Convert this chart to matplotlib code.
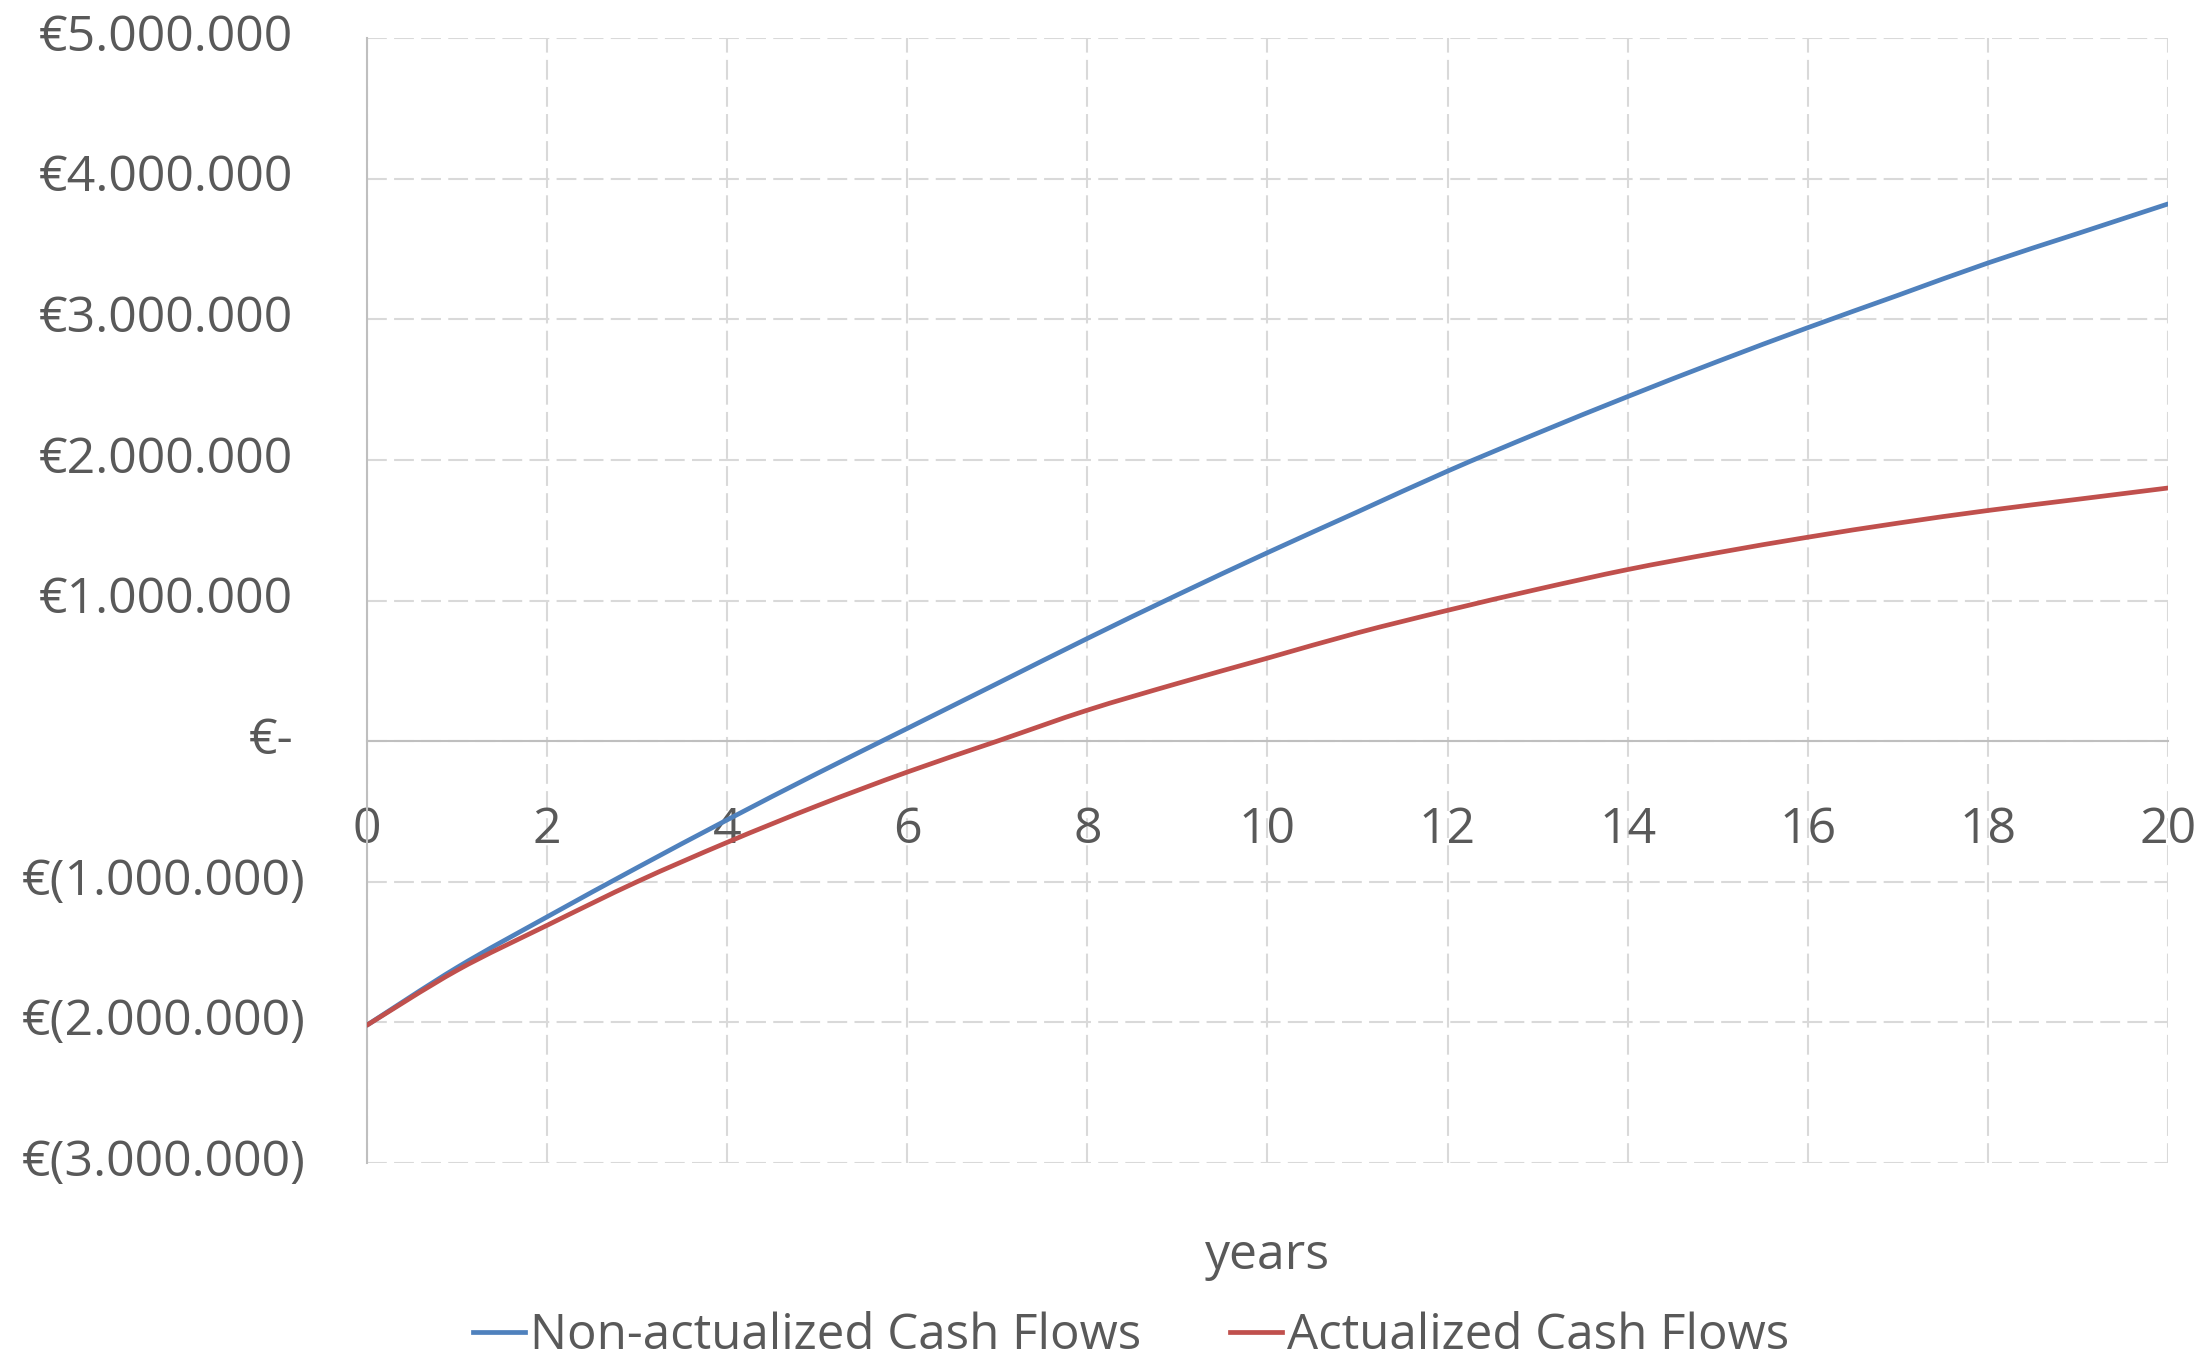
import matplotlib
matplotlib.use("Agg")
from matplotlib import pyplot as plt
from matplotlib.path import Path
from matplotlib.patches import PathPatch
from matplotlib.lines import Line2D
from matplotlib.transforms import blended_transform_factory, offset_copy

# data, in millions of euro
years = list(range(21))
non_actualized = [-2.02, -1.61, -1.25, -0.90, -0.56, -0.23, 0.09, 0.41, 0.73, 1.04, 1.34,
                  1.63, 1.92, 2.19, 2.45, 2.70, 2.94, 3.17, 3.40, 3.61, 3.82]
actualized = [-2.02, -1.63, -1.31, -1.00, -0.72, -0.46, -0.22, 0.00, 0.22, 0.41, 0.59,
              0.77, 0.93, 1.08, 1.22, 1.34, 1.45, 1.55, 1.64, 1.72, 1.80]
non_actualized = [v * 1e6 for v in non_actualized]
actualized = [v * 1e6 for v in actualized]

x_ticks = list(range(0, 21, 2))
y_ticks = [v * 1e6 for v in range(-3, 6)]

text_col = "#595959"
blue = "#4F81BD"
red = "#C0504D"
fsize = 36
plt.rcParams['font.family'] = ['Open Sans', 'DejaVu Sans']


def euro(v):
    if abs(v) < 1:
        return "€-"
    s = f"{abs(v):,.0f}".replace(",", ".")
    return f"€({s})" if v < 0 else f"€{s}"


def smooth_path(xs, ys):
    # excel style "smoothed line": cubic bezier through every data point
    pts = list(zip(xs, ys))
    verts = [pts[0]]
    codes = [Path.MOVETO]
    n = len(pts)
    for i in range(n - 1):
        p0 = pts[max(i - 1, 0)]
        p1 = pts[i]
        p2 = pts[i + 1]
        p3 = pts[min(i + 2, n - 1)]
        c1 = (p1[0] + (p2[0] - p0[0]) / 6, p1[1] + (p2[1] - p0[1]) / 6)
        c2 = (p2[0] - (p3[0] - p1[0]) / 6, p2[1] - (p3[1] - p1[1]) / 6)
        verts += [c1, c2, p2]
        codes += [Path.CURVE4] * 3
    return Path(verts, codes)


fig = plt.figure(figsize=(22.05, 13.62), dpi=100)
ax = fig.add_axes([0.1664, 0.1461, 0.8168, 0.826])

for ys, col in [(non_actualized, blue), (actualized, red)]:
    ax.add_patch(PathPatch(smooth_path(years, ys), facecolor="none", edgecolor=col,
                           lw=3.4, capstyle="round", zorder=3))

ax.set_xlim(0, 20)
ax.set_ylim(-3e6, 5e6)
ax.set_xticks(x_ticks)
ax.set_yticks(y_ticks)
ax.set_yticklabels([])

ax.grid(True, color="#d9d9d9", lw=1.5, linestyle=(0, (9.5, 3.5)), zorder=0)
ax.set_axisbelow(True)

for s in ["top", "right"]:
    ax.spines[s].set_visible(False)
ax.spines["left"].set_color("#bfbfbf")
ax.spines["left"].set_linewidth(1.5)
ax.spines["bottom"].set_position(("data", 0))
ax.spines["bottom"].set_color("#bfbfbf")
ax.spines["bottom"].set_linewidth(1.5)

ax.tick_params(axis="both", length=0, labelsize=fsize, labelcolor=text_col)
ax.tick_params(axis="x", pad=46)

# y labels: positive ones leave room for the closing bracket like excel accounting format
trans = blended_transform_factory(ax.transAxes, ax.transData)
for v in y_ticks:
    shift = -44 if v < 0 else -53
    ax.text(0, v, euro(v), ha="right", va="center", fontsize=fsize, color=text_col,
            transform=offset_copy(trans, fig=fig, x=shift, y=0, units="points"))

fig.text(0.5746, 0.078, "years", ha="center", va="center", fontsize=fsize, color=text_col)

handles = [Line2D([], [], color=blue, lw=3.4), Line2D([], [], color=red, lw=3.4)]
labels = ["Non-actualized Cash Flows", "Actualized Cash Flows"]
leg = fig.legend(handles, labels, loc="center", bbox_to_anchor=(0.513, 0.019), ncol=2,
                 frameon=False, fontsize=35.5, handlelength=1.05, handletextpad=0.1,
                 columnspacing=1.8, borderpad=0.1)
for t in leg.get_texts():
    t.set_color(text_col)

fig.savefig("out.png", dpi=100, facecolor="white")
